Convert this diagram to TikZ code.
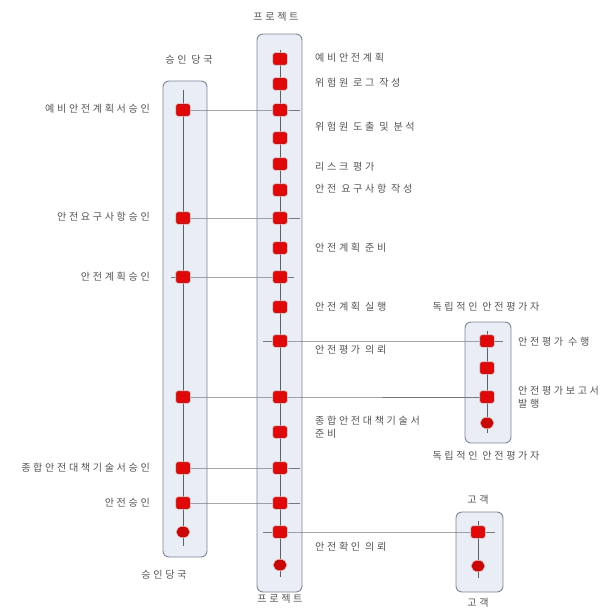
\documentclass[tikz,border=0pt]{standalone}
\usepackage{fontspec}
\newfontfamily\kr[LetterSpace=26]{Noto Sans CJK KR}
\usetikzlibrary{calc,shapes.geometric}
\definecolor{lanefill}{HTML}{E8EDF6}
\definecolor{laneedge}{HTML}{7D8494}
\definecolor{mk}{HTML}{E00808}
\definecolor{mkedge}{HTML}{A80000}
\definecolor{txt}{HTML}{555555}
\definecolor{ln}{HTML}{5E6066}
\tikzset{
  lane/.style={draw=laneedge, fill=lanefill, line width=0.9pt, rounded corners=6pt},
  spine/.style={draw=ln, line width=0.9pt},
  conn/.style={draw=ln!85, line width=0.9pt},
  sq/.style={rectangle, rounded corners=2pt, minimum width=13pt, minimum height=11pt, inner sep=0pt,
             fill=mk, draw=mkedge, line width=0.5pt,
             preaction={draw=mk!35, line width=2.4pt}},
  dot/.style={ellipse, minimum width=12pt, minimum height=10pt, inner sep=0pt,
             fill=mk!90!black, draw=mkedge, line width=0.5pt,
             preaction={draw=mk!35, line width=2.4pt}},
  lbl/.style={font=\kr\fontsize{10.1}{13}\selectfont, text=txt, inner sep=0pt},
  lblr/.style={lbl, anchor=west, align=left},
  lbll/.style={lbl, anchor=east, align=right}
}
\begin{document}
\begin{tikzpicture}[x=1pt,y=-1pt]
\useasboundingbox (0,0) rectangle (612,607);
% lanes
\draw[lane] (163,81) rectangle (207,557);
\draw[lane] (257,34) rectangle (302,592);
\draw[lane] (465,322) rectangle (511,443);
\draw[lane] (456,512) rectangle (503,592);
% marker positions
\coordinate (l1) at (183,110);
\coordinate (l2) at (183,218);
\coordinate (l3) at (183,277);
\coordinate (l4) at (183,397);
\coordinate (l5) at (183,468);
\coordinate (l6) at (183,503);
\coordinate (l7) at (183,532);
\coordinate (m1) at (280,59);
\coordinate (m2) at (280,84);
\coordinate (m3) at (280,110);
\coordinate (m4) at (280,138);
\coordinate (m5) at (280,164);
\coordinate (m6) at (280,190);
\coordinate (m7) at (280,218);
\coordinate (m8) at (280,248);
\coordinate (m9) at (280,277);
\coordinate (m10) at (280,307);
\coordinate (m11) at (280,341);
\coordinate (m12) at (280,397);
\coordinate (m13) at (280,432);
\coordinate (m14) at (280,468);
\coordinate (m15) at (280,503);
\coordinate (m16) at (280,532);
\coordinate (m17) at (280,565);
\coordinate (r1) at (487,341);
\coordinate (r2) at (487,368);
\coordinate (r3) at (487,397);
\coordinate (r4) at (487,423);
\coordinate (c1) at (478,532);
\coordinate (c2) at (478,566);
% spines
\coordinate (ltop) at (183,90);   \coordinate (lbot) at (183,546);
\coordinate (mtop) at (280,50);   \coordinate (mbot) at (280,577);
\coordinate (rtop) at (487,331);  \coordinate (rbot) at (487,433);
\coordinate (ctop) at (478,521);  \coordinate (cbot) at (478,578);
\draw[spine] (ltop) -- (lbot);
\draw[spine] (mtop) -- (mbot);
\draw[spine] (rtop) -- (rbot);
\draw[spine] (ctop) -- (cbot);
% connectors
\draw[conn] (l1) -- (m3) -- ++(20,0);
\draw[conn] (l2) -- (m7) -- ++(20,0);
\draw[conn] ($(l3)+(-12,0)$) -- (l3) -- (m9) -- ++(14,0);
\draw[conn] ($(m11)+(-17,0)$) -- (m11) -- (r1) -- ++(16,0);
\draw[conn] (l4) -- (m12) -- (r3);
\draw[conn] (l5) -- (m14) -- ++(20,0);
\draw[conn] (l6) -- (m15) -- ++(20,0);
\draw[conn] ($(m16)+(-17,0)$) -- (m16) -- (c1) -- ++(17,0);
% markers
\foreach \i in {1,...,6} \node[sq] (L\i) at (l\i) {};
\node[dot] (L7) at (l7) {};
\foreach \i in {1,...,16} \node[sq] (M\i) at (m\i) {};
\node[dot] (M17) at (m17) {};
\foreach \i in {1,2,3} \node[sq] (R\i) at (r\i) {};
\node[dot] (R4) at (r4) {};
\node[sq] (C1) at (c1) {};
\node[dot] (C2) at (c2) {};
% lane titles
\node[lbl] (tl) at (189,60) {승인 당국};
\node[lbl] (bl) at (164,575) {승인당국};
\node[lbl] (tm) at (276,17) {프로젝트};
\node[lbl] (bm) at (280,599) {프로젝트};
\node[lbl] (tr) at (486,307) {독립적인 안전평가자};
\node[lbl] (br) at (486,456) {독립적인 안전평가자};
\node[lbl] (tc) at (478,500) {고객};
\node[lbl] (bc) at (478,603) {고객};
% middle labels
\node[lblr] (t1) at (315,58) {예비안전계획};
\node[lblr] (t2) at (315,83) {위험원 로그 작성};
\node[lblr] (t3) at (315,127) {위험원 도출 및 분석};
\node[lblr] (t4) at (315,167) {리스크 평가};
\node[lblr] (t5) at (315,189) {안전 요구사항 작성};
\node[lblr] (t6) at (315,248) {안전계획 준비};
\node[lblr] (t7) at (315,307) {안전계획 실행};
\node[lblr] (t8) at (315,350) {안전평가 의뢰};
\node[lblr] (t9) at (315,427) {종합안전대책기술서\\준비};
\node[lblr] (t10) at (315,547) {안전확인 의뢰};
% left labels
\node[lbll] (s1) at (150,109) {예비안전계획서승인};
\node[lbll] (s2) at (150,217) {안전요구사항승인};
\node[lbll] (s3) at (150,277) {안전계획승인};
\node[lbll] (s4) at (150,468) {종합안전대책기술서승인};
\node[lbll] (s5) at (150,503) {안전승인};
% right labels
\node[lblr] (u1) at (518,342) {안전평가 수행};
\node[lblr] (u2) at (518,397) {안전평가보고서\\발행};
\end{tikzpicture}
\end{document}
